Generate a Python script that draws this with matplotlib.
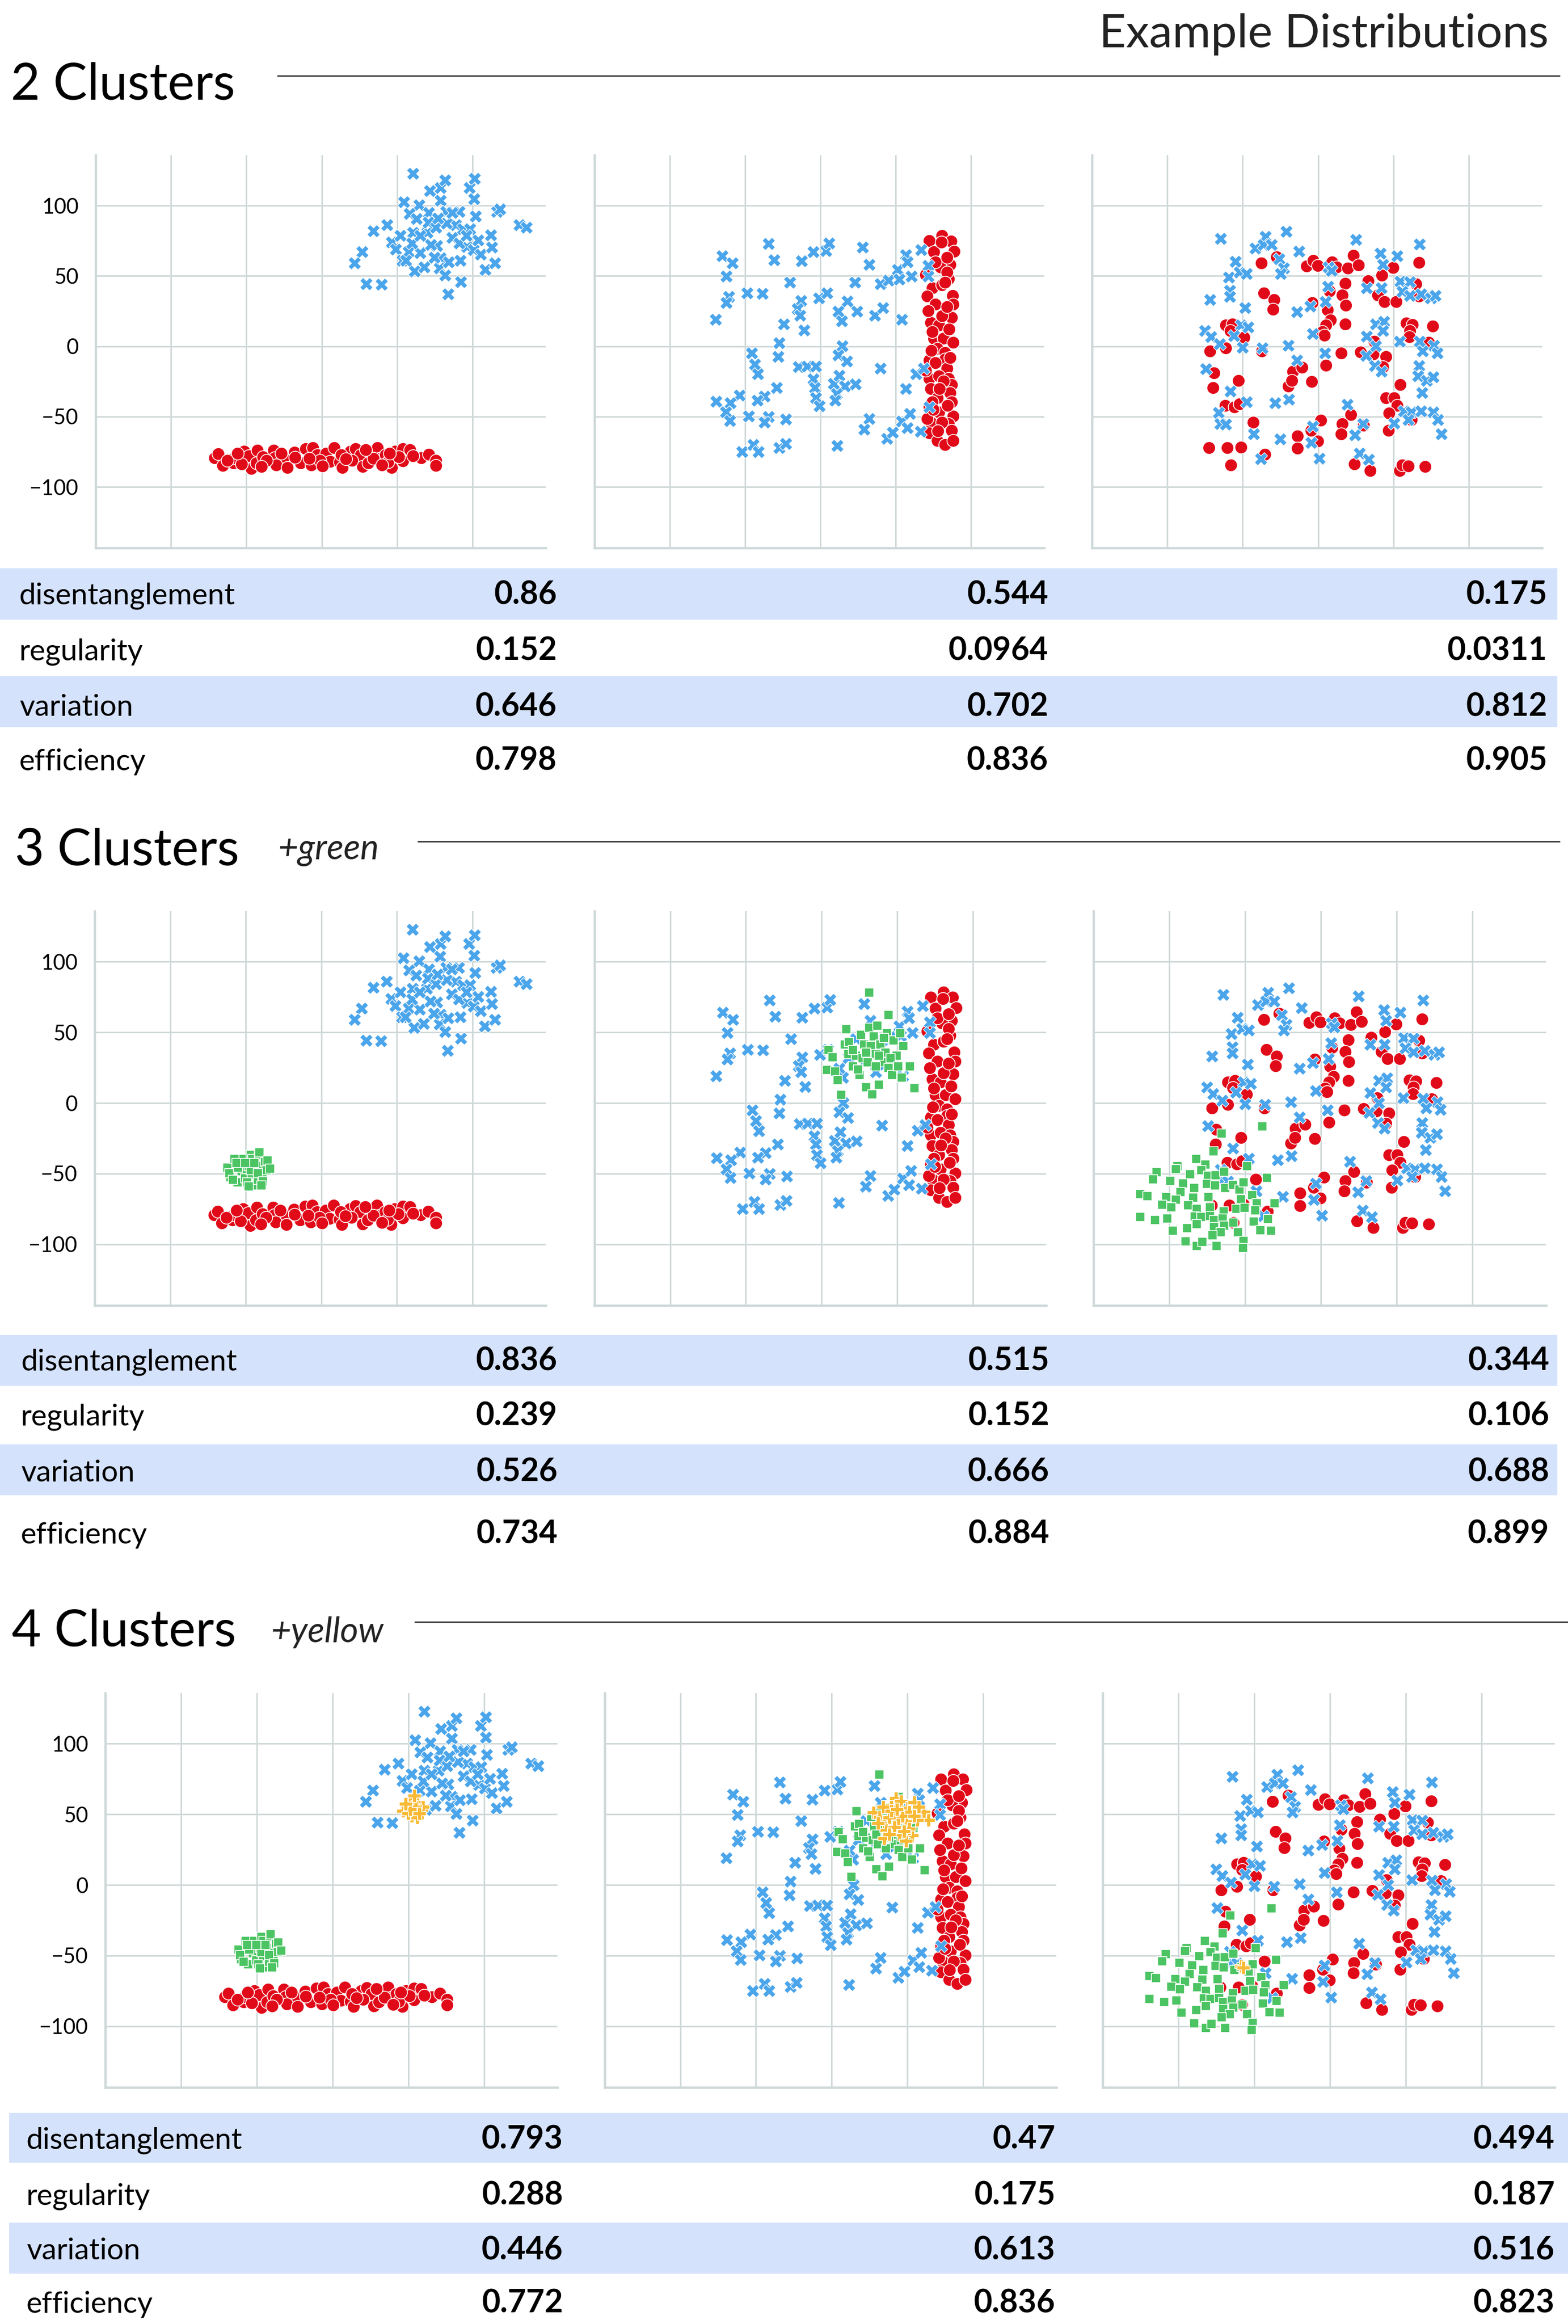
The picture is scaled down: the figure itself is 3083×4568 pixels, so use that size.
import matplotlib
matplotlib.use("Agg")
import matplotlib.pyplot as plt
from matplotlib.patches import Rectangle
from matplotlib.lines import Line2D

W, H = 3083, 4568
plt.rcParams['font.family'] = ['Lato', 'DejaVu Sans']

# ---------------- data: column 1 ----------------
c1_red_x = [-71.0, -68.6, -65.8, -58.7, -58.0, -51.6, -48.5, -46.9, -42.6, -43.3, -39.1, -32.0, -31.2, -30.1,
            -23.2, -23.0, -18.2, -14.2, -10.7, -7.1, -5.9, -2.8, 2.8, 5.4, 8.3, 11.8, 13.7, 18.9, 22.5, 25.6,
            27.2, 30.8, 33.1, 36.7, 38.6, 42.1, 46.2, 48.5, 53.8, 53.8, 58.6, 65.7, 70.9, 75.7, 75.7, -53.3,
            -36.7, -1.2, 20.1, 43.8, -17.8, 13.0, 34.3, -62.7, 50.9, -40.0, -27.0, -8.5, 16.0, 29.0, 40.0,
            60.5, -56.0, 0.5, 45.0]
c1_red_y = [-79.2, -76.5, -84.8, -82.8, -79.2, -74.7, -77.7, -86.8, -73.9, -82.8, -78.5, -73.9, -79.2, -84.3,
            -79.7, -86.1, -75.2, -82.8, -72.9, -84.3, -72.2, -77.2, -75.9, -81.8, -72.2, -82.3, -86.1, -74.7,
            -72.7, -77.2, -85.6, -82.8, -74.7, -72.2, -79.7, -77.2, -86.1, -74.7, -81.5, -72.9, -73.4, -79.2,
            -76.7, -81.0, -84.8, -83.5, -81.0, -81.0, -81.0, -82.3, -79.0, -77.2, -79.7, -81.0, -78.5, -85.5,
            -76.0, -79.5, -80.0, -73.5, -84.5, -78.0, -76.0, -85.0, -76.0]
c1_blue_x = [60.4, 54.4, 71.7, 78.8, 81.7, 97.8, 101.3, 101.1, 64.6, 58.0, 62.7, 71.0, 78.6, 82.4, 91.1, 101.8,
             116.0, 118.3, 130.9, 135.6, 43.3, 34.3, 26.7, 21.8, 29.6, 39.5, 46.2, 49.0, 52.1, 53.3, 57.5, 60.4,
             61.5, 67.9, 65.1, 69.8, 70.5, 75.7, 76.4, 78.8, 78.1, 81.7, 84.0, 86.4, 88.8, 91.8, 92.3, 83.6,
             93.5, 96.3, 100.6, 103.7, 105.3, 108.2, 112.0, 112.9, 114.8, 59.9, 72.2, 82.8, 76.9, 86.4, 98.2,
             91.1, 55.6, 65.1, 74.6, 95.9]
c1_blue_y = [122.8, 102.5, 110.6, 112.7, 118.2, 112.7, 119.0, 104.6, 100.5, 94.2, 90.6, 94.9, 103.8, 95.7, 95.7,
             92.4, 95.7, 97.5, 86.1, 84.3, 86.1, 81.8, 67.1, 59.0, 44.3, 43.8, 73.9, 68.9, 78.5, 60.8, 67.1, 81.0,
             53.2, 56.2, 66.3, 81.0, 88.1, 84.3, 71.4, 62.8, 55.7, 50.6, 60.0, 77.2, 86.1, 60.8, 45.6, 37.2, 83.5,
             70.9, 68.4, 75.4, 65.3, 54.4, 79.0, 70.4, 59.0, 73.4, 72.2, 87.3, 91.1, 94.9, 83.5, 73.4, 60.8, 78.5,
             63.3, 78.5]
c1_green_x = [-62.1, -60.2, -57.4, -55.5, -52.7, -51.5, -50.3, -47.9, -46.8, -46.0, -45.6, -44.4, -43.2, -42.0,
              -41.3, -40.8, -39.7, -39.0, -37.3, -36.1, -35.7, -60.9, -58.6, -55.0, -49.1, -46.8, -44.4, -42.0,
              -38.5, -33.8, -56.2, -50.3, -47.9, -39.7]
c1_green_y = [-45.6, -52.4, -39.7, -56.3, -48.1, -39.7, -53.4, -44.6, -36.8, -50.4, -39.7, -58.3, -46.5, -54.4,
              -36.8, -34.8, -44.6, -51.4, -41.6, -47.5, -40.7, -49.5, -54.4, -45.6, -56.3, -47.5, -42.6, -49.5,
              -55.3, -46.5, -42.6, -42.6, -59.2, -58.3]
c1_yellow_x = [53.8, 51.4, 56.2, 49.0, 46.6, 58.7, 53.8, 52.6, 56.2, 50.2, 59.9, 55.0, 57.5, 51.4, 54.3, 48.6]
c1_yellow_y = [61.2, 57.3, 58.3, 54.3, 52.4, 53.0, 51.4, 48.5, 47.5, 50.4, 55.3, 55.3, 50.4, 53.4, 63.1, 57.3]

# ---------------- data: column 2 ----------------
c2_red_x = [72.1, 80.7, 86.7, 75.3, 88.9, 80.2, 86.1, 79.6, 85.0, 83.9, 74.2, 80.7, 87.8, 71.0, 76.4, 88.2, 87.1,
            73.2, 78.5, 75.3, 81.8, 88.2, 77.5, 82.8, 72.1, 82.8, 76.4, 83.9, 72.1, 78.5, 85.0, 87.1, 73.2, 86.1,
            77.5, 87.1, 72.1, 78.5, 88.2, 73.2, 85.0, 87.1, 72.1, 77.5, 82.8, 88.2, 71.0, 80.7, 74.2, 81.8, 69.9,
            74.2, 80.7, 76.4, 82.8, 69.9, 84.0, 71.5, 85.5, 79.0, 75.0, 84.5, 78.0, 86.0, 73.5, 84.0]
c2_red_y = [75.1, 78.5, 74.8, 67.0, 67.4, 73.8, 58.2, 56.4, 48.1, 52.7, 41.6, 43.5, 36.1, 35.5, 29.7, 29.7, 20.4,
            16.8, 14.9, 5.7, 5.7, 2.9, -1.7, -4.4, -9.9, -9.0, -11.8, -15.5, -22.8, -21.0, -22.8, -27.4, -30.2,
            -33.0, -36.6, -39.4, -43.1, -46.8, -49.5, -54.1, -55.1, -59.7, -61.5, -67.0, -69.8, -67.0, -51.4,
            -54.1, -39.4, -24.7, -17.3, 10.3, 21.4, 60.0, 45.3, 50.8, 63.0, 25.0, 12.0, -30.0, -45.0, -42.0,
            -60.0, -8.0, -3.0, 28.0]
c2_blue_x = [-34.4, -65.2, -58.5, -62.4, -30.8, -12.7, -4.7, 3.7, 5.8, 28.0, 32.3, -20.2, 22.8, 39.8, 45.2, 51.2,
             56.6, 57.7, 52.3, 60.2, 66.7, 71.6, 71.6, -48.8, -38.7, -60.7, -62.4, -69.7, -12.9, -15.3, -13.6,
             -1.1, 4.3, 17.9, 11.8, 14.0, 24.3, 35.9, 41.5, 53.8, -24.3, -10.8, -27.3, -28.0, -45.8, -43.5,
             -41.5, -14.6, -9.0, -3.2, 14.4, 11.8, 17.4, 39.8, -4.7, -3.9, -3.2, -0.6, 8.6, 12.3, 16.1, 23.2,
             10.8, 9.7, -29.0, -53.8, -37.2, -42.0, -69.3, -59.8, -63.0, -60.2, -47.8, -34.4, -37.2, -23.0,
             -52.1, -44.5, -41.3, -27.3, -23.2, 11.2, 32.3, 29.0, 44.1, 48.0, 53.8, 59.2, 57.7, 66.3, 56.6,
             63.5, 68.4, 72.1]
c2_blue_y = [72.9, 64.1, 59.1, 49.9, 61.3, 60.6, 67.0, 67.8, 73.3, 70.2, 58.2, 45.3, 45.3, 44.4, 46.8, 54.5, 65.0,
             60.0, 47.5, 49.9, 68.7, 57.3, 49.9, 37.9, 37.4, 35.2, 30.9, 19.2, 32.4, 26.5, 21.9, 34.3, 37.9, 32.0,
             24.7, 18.0, 24.7, 21.9, 27.3, 19.2, 15.8, 11.6, 2.4, -7.2, -5.0, -12.7, -19.7, -14.7, -14.4, -14.2,
             0.2, -6.3, -10.5, -15.8, -23.2, -29.3, -36.6, -42.5, -26.5, -20.6, -28.4, -26.9, -33.9, -38.5,
             -29.3, -34.8, -35.4, -38.5, -39.0, -40.3, -46.8, -52.9, -49.5, -49.9, -54.1, -51.9, -75.0, -69.8,
             -75.0, -72.0, -69.2, -70.7, -51.4, -59.1, -65.6, -61.1, -53.2, -47.7, -57.8, -60.6, -30.2, -19.5,
             -15.5, -43.1]
c2_green_x = [31.5, 44.4, 16.5, 4.7, 7.3, 3.6, 9.0, 10.7, 12.9, 15.4, 17.6, 18.2, 20.8, 22.9, 25.1, 26.2, 27.2,
              28.3, 29.4, 31.5, 32.6, 33.7, 34.7, 35.8, 36.9, 38.0, 39.0, 41.2, 42.2, 43.3, 44.4, 46.5, 47.6,
              49.7, 51.9, 53.0, 54.0, 58.3, 61.5, 24.0, 30.4, 35.8, 41.2, 45.5, 50.8, 20.8, 29.4, 38.0]
c2_green_y = [78.2, 62.4, 52.2, 37.5, 32.6, 23.5, 22.5, 16.4, 5.9, 41.4, 34.6, 43.4, 25.8, 33.6, 19.9, 48.3, 31.7,
              41.4, 11.1, 53.2, 40.5, 6.3, 47.3, 34.6, 54.7, 13.1, 41.4, 28.7, 35.6, 49.3, 24.8, 19.9, 44.4,
              33.6, 49.3, 18.0, 40.5, 25.8, 10.6, 23.9, 28.7, 25.8, 46.3, 31.7, 25.8, 37.5, 35.6, 33.6]
c2_yellow_x = [27.7, 32.0, 34.8, 39.5, 41.7, 42.7, 46.0, 50.3, 51.3, 54.6, 61.0, 64.2, 56.7, 49.2, 44.2, 38.4,
               34.1, 36.3, 44.9, 53.5, 49.2, 34.8, 41.7, 51.3, 39.5, 47.0, 30.9, 57.8, 43.4, 48.1, 38.4, 54.6]
c2_yellow_y = [51.0, 47.9, 43.6, 56.3, 49.5, 61.2, 59.2, 54.3, 51.4, 58.3, 51.4, 45.6, 45.6, 44.6, 46.5, 47.5,
               55.3, 38.7, 35.8, 34.8, 30.9, 32.8, 40.7, 39.7, 52.4, 48.5, 43.6, 55.3, 53.4, 37.7, 35.8, 48.5]

# ---------------- data: column 3 ----------------
c3_red_x = [-37.8, -7.8, -3.2, -0.4, 9.1, 12.3, 19.7, 23.3, 26.6, 49.7, 66.8, 42.3, 33.0, 18.0, 64.7, -35.9,
            -29.4, -30.0, 7.4, 16.1, 18.2, 6.1, -4.0, 39.7, 44.0, 51.8, 66.8, -61.3, -56.9, -58.1, -49.0, -71.7,
            -61.3, -37.4, 8.2, 5.3, 2.7, 4.0, 18.0, 58.4, 62.6, 60.9, 60.5, 76.1, 73.2, 37.2, 36.6, 45.0, 28.1,
            42.9, 15.4, 5.3, -69.1, -69.6, -52.9, -16.9, -10.6, -19.9, -17.3, -4.2, 54.5, 45.0, 50.3, 52.4,
            46.9, -61.7, -55.4, -52.2, -43.1, 1.9, 21.8, 15.9, 15.4, -4.7, -13.7, -13.7, -0.4, 30.2, 46.5,
            61.9, -72.3, -60.3, -51.2, -57.9, -35.3, 23.9, 34.5, 53.9, 55.6, 59.8, 71.0, -27.5]
c3_red_y = [59.1, 56.9, 61.0, 57.3, 60.0, 56.4, 55.4, 64.6, 57.6, 56.0, 59.5, 50.5, 46.6, 44.8, 44.4, 37.9, 33.1,
            26.2, 39.4, 36.5, 29.3, 26.0, 30.9, 36.5, 31.5, 31.5, 35.5, 14.9, 15.8, 10.9, 6.3, -3.5, -1.1, -3.5,
            18.6, 14.9, 10.3, 7.9, 15.8, 16.4, 15.5, 11.2, 6.6, 14.5, 2.9, 3.5, -5.7, -7.2, -4.1, -14.5, -5.0,
            -13.6, -18.8, -29.3, -24.3, -17.9, -15.1, -28.4, -24.3, -25.0, -27.4, -36.6, -36.6, -42.2, -47.5,
            -42.2, -43.1, -40.9, -54.1, -52.7, -48.6, -55.1, -62.4, -59.7, -63.7, -72.6, -67.4, -56.0, -59.7,
            -52.3, -72.2, -72.2, -71.6, -84.5, -76.8, -83.6, -88.2, -88.2, -84.5, -85.1, -85.5, 63.4]
c3_blue_x = [-64.5, -34.9, -21.1, -41.6, -36.4, -31.1, -55.0, -59.2, -52.2, -47.6, -25.8, -23.0, -24.7, -12.7,
             24.9, 67.2, 41.4, 52.4, 42.9, 7.0, 8.7, -71.7, -58.6, -58.6, -48.4, -14.2, -5.3, 4.9, 6.6, 32.3,
             41.9, 54.5, 60.9, 55.6, 60.9, 68.3, 74.6, 77.8, -75.1, -71.2, -65.3, -51.2, -46.3, -56.0, -50.1,
             -37.0, -19.9, -3.6, 4.4, -14.2, 38.3, 43.6, 42.9, 32.3, 38.3, 31.7, 54.1, 67.2, 76.7, 69.3, 78.9,
             -74.4, 66.8, 66.2, 72.1, 76.3, 68.9, 37.6, 41.9, -58.1, -47.6, -28.5, -19.5, 19.2, -66.0, -64.9,
             -61.3, -42.7, -25.2, -3.6, -4.7, 0.6, 24.5, 29.8, 27.5, 33.4, 50.3, 56.7, 61.9, 59.8, 68.3, 76.3,
             79.5, 81.6, -38.1]
c3_blue_y = [76.6, 78.1, 81.6, 69.6, 72.0, 72.0, 60.4, 49.0, 52.7, 51.7, 62.2, 55.4, 51.7, 67.4, 75.7, 72.6, 65.9,
             64.1, 58.2, 56.4, 53.6, 33.3, 39.8, 35.2, 27.4, 24.5, 28.4, 31.5, 42.5, 41.6, 41.6, 46.2, 45.7, 38.9,
             36.1, 37.0, 34.3, 36.1, 11.2, 6.6, 1.7, 14.9, 13.6, 7.6, -0.7, -1.1, 0.6, 8.8, -5.0, -9.9, 15.8,
             17.7, 11.2, 7.2, 0.2, -6.8, 3.5, 3.3, 0.7, -3.5, -4.8, -16.0, -14.0, -21.0, -24.3, -21.9, -33.0,
             -14.0, -17.9, -32.0, -39.4, -40.3, -37.6, -41.3, -47.1, -55.1, -55.6, -62.4, -66.1, -56.9, -68.5,
             -79.6, -63.0, -55.1, -75.9, -80.5, -54.7, -45.9, -46.8, -52.3, -45.9, -46.8, -52.3, -62.4, -79.9]
c3_green_x = [-38.5, -65.6, -70.9, -82.4, -76.1, -94.6, -95.7, -108.3, -110.8, -99.2, -91.0, -86.2, -78.8, -74.6,
              -69.4, -63.7, -48.8, -75.3, -70.0, -83.5, -92.5, -119.2, -114.6, -102.0, -95.7, -84.1, -74.2,
              -63.1, -58.2, -53.6, -51.1, -45.2, -52.6, -35.5, -104.7, -98.8, -87.7, -82.0, -73.2, -64.1, -55.7,
              -50.5, -42.5, -30.5, -43.5, -119.2, -109.3, -101.3, -83.1, -78.8, -73.2, -70.4, -64.8, -82.0,
              -70.4, -63.7, -44.2, -35.1, -97.8, -88.3, -66.2, -54.7, -39.9, -33.0, -89.4, -82.0, -78.2, -69.0,
              -51.1, -51.5, -71.5, -57.8]
c3_green_y = [-16.6, -21.7, -34.2, -39.7, -43.6, -44.6, -46.9, -48.9, -54.0, -54.9, -56.9, -50.4, -47.5, -51.4,
              -51.0, -48.5, -44.6, -57.3, -58.3, -60.2, -63.1, -64.5, -65.7, -66.5, -68.4, -67.1, -66.5, -60.2,
              -57.9, -61.2, -56.3, -65.1, -68.0, -53.0, -71.9, -73.9, -72.3, -74.9, -73.9, -76.8, -74.9, -74.3,
              -71.0, -71.0, -75.9, -80.7, -82.7, -81.7, -80.2, -80.7, -79.8, -82.7, -81.7, -85.6, -88.0, -86.6,
              -83.7, -82.1, -90.5, -88.6, -91.5, -91.5, -89.9, -90.5, -97.9, -101.3, -98.3, -101.3, -97.4,
              -102.6, -93.5, -84.7]
c3_yellow_x = [-58.2, -57.0]
c3_yellow_y = [-57.7, -58.5]

# ---------------- metrics tables ----------------
metric_names = ["disentanglement", "regularity", "variation", "efficiency"]
scores_2 = [[0.86, 0.544, 0.175], [0.152, 0.0964, 0.0311], [0.646, 0.702, 0.812], [0.798, 0.836, 0.905]]
scores_3 = [[0.836, 0.515, 0.344], [0.239, 0.152, 0.106], [0.526, 0.666, 0.688], [0.734, 0.884, 0.899]]
scores_4 = [[0.793, 0.47, 0.494], [0.288, 0.175, 0.187], [0.446, 0.613, 0.516], [0.772, 0.836, 0.823]]

RED, BLUE, GREEN, YELLOW = '#E10A19', '#4BA5EB', '#4CC463', '#F8B935'
GRID = '#CFD8D8'
BAND = '#D5E2FC'

cols = [
    dict(red=(c1_red_x, c1_red_y), blue=(c1_blue_x, c1_blue_y), green=(c1_green_x, c1_green_y),
         yellow=(c1_yellow_x, c1_yellow_y)),
    dict(red=(c2_red_x, c2_red_y), blue=(c2_blue_x, c2_blue_y), green=(c2_green_x, c2_green_y),
         yellow=(c2_yellow_x, c2_yellow_y)),
    dict(red=(c3_red_x, c3_red_y), blue=(c3_blue_x, c3_blue_y), green=(c3_green_x, c3_green_y),
         yellow=(c3_yellow_x, c3_yellow_y)),
]

fig = plt.figure(figsize=(W / 300, H / 300), dpi=300)


def fx(px):
    return px / W


def fy(py):
    return 1 - py / H


def panel(left, right, top, bottom, col, ncl, show_y):
    ax = fig.add_axes([fx(left), fy(bottom), fx(right - left), (bottom - top) / H])
    ax.set_axisbelow(True)
    ax.grid(True, color=GRID, lw=0.7)
    for s in ['top', 'right']:
        ax.spines[s].set_visible(False)
    for s in ['left', 'bottom']:
        ax.spines[s].set_color(GRID)
        ax.spines[s].set_linewidth(1.1)
    ax.set_xlim(-150, 148.5)
    ax.set_ylim(-143.3, 135.8)
    ax.set_xticks([-150, -100, -50, 0, 50, 100])
    ax.set_yticks([-100, -50, 0, 50, 100])
    ax.tick_params(length=0, labelsize=10, pad=8)
    ax.set_xticklabels([])
    if not show_y:
        ax.set_yticklabels([])
    ax.scatter(*col['red'], s=36, marker='o', color=RED, edgecolor='white', lw=0.4, zorder=3)
    ax.scatter(*col['blue'], s=38, marker='X', color=BLUE, edgecolor='white', lw=0.3, zorder=3)
    if ncl >= 3:
        ax.scatter(*col['green'], s=20, marker='s', color=GREEN, edgecolor='white', lw=0.4, zorder=3)
    if ncl >= 4:
        ax.scatter(*col['yellow'], s=38, marker='P', color=YELLOW, edgecolor='white', lw=0.4, zorder=3)
    return ax


def table(scores, rows_y, bands, label_x, val_x, band_x0, band_x1):
    for (b0, b1) in bands:
        fig.patches.append(Rectangle((fx(band_x0), fy(b1)), fx(band_x1 - band_x0), (b1 - b0) / H,
                                     transform=fig.transFigure, color=BAND, zorder=0))
    for name, vals, y in zip(metric_names, scores, rows_y):
        fig.text(fx(label_x), fy(y + 21), name, fontsize=14, va='baseline', ha='left')
        for v, x in zip(vals, val_x):
            fig.text(fx(x), fy(y + 21), '{:g}'.format(v), fontsize=15, fontweight='bold',
                     va='baseline', ha='right')


def header(title, extra, x, base, extra_x, extra_base, line_x0, line_x1, line_y):
    fig.text(fx(x), fy(base), title, fontsize=24, va='baseline', ha='left')
    if extra:
        fig.text(fx(extra_x), fy(extra_base), extra, fontsize=16.5, style='italic',
                 va='baseline', ha='left', color='#222222')
    fig.lines.append(Line2D([fx(line_x0), fx(line_x1)], [fy(line_y), fy(line_y)], transform=fig.transFigure,
                            color='#222222', lw=0.6))


fig.text(fx(3045), fy(93), "Example Distributions", fontsize=22, ha='right', va='baseline', color='#222222')

# row 1: 2 clusters
header("2 Clusters", None, 21, 195, 0, 0, 546, 3066, 149)
for i, (l, r) in enumerate([(188, 1073), (1169, 2053), (2147, 3032)]):
    panel(l, r, 305, 1077, cols[i], 2, i == 0)
table(scores_2, [1166, 1276, 1386, 1493], [(1119, 1216), (1331, 1427)], 38, [1095, 2061, 3042], 0, 3060)

# row 2: 3 clusters
header("3 Clusters", "+green", 29, 1700, 547, 1689, 822, 3066, 1654)
for i, (l, r) in enumerate([(186, 1073), (1169, 2057), (2150, 3040)]):
    panel(l, r, 1791, 2566, cols[i], 3, i == 0)
table(scores_3, [2672, 2780, 2891, 3013], [(2626, 2722), (2841, 2937)], 41, [1096, 2063, 3046], 0, 3060)

# row 3: 4 clusters
header("4 Clusters", "+yellow", 23, 3235, 533, 3228, 816, 3083, 3188)
for i, (l, r) in enumerate([(207, 1096), (1189, 2077), (2168, 3057)]):
    panel(l, r, 3328, 4103, cols[i], 4, i == 0)
table(scores_4, [4202, 4313, 4420, 4525], [(4155, 4249), (4371, 4467)], 52, [1107, 2075, 3057], 20, 3083)

fig.savefig("out.png", dpi=300)
